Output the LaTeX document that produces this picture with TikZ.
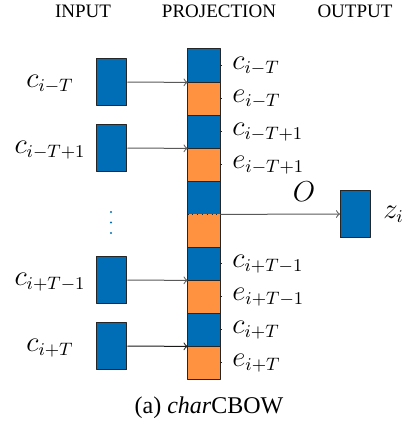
\documentclass[tikz,border=0pt]{standalone}
\usepackage[no-math]{fontspec}
\setmainfont{Liberation Serif}
\definecolor{cblue}{RGB}{0,110,183}
\definecolor{corange}{RGB}{255,146,64}
\begin{document}
\begin{tikzpicture}[x=0.5pt, y=-0.5pt, line join=round, >=to,
	cell/.style={minimum width=16pt, minimum height=16.5pt, inner sep=0pt, draw=none},
	vec/.style={draw=black!85, line width=0.5pt, fill=cblue, minimum width=15pt, minimum height=23.5pt, inner sep=0pt},
	lab/.style={font=\fontsize{13.5}{16}\selectfont, inner sep=0pt},
	head/.style={font=\fontsize{9.5}{11}\selectfont, inner sep=0pt, anchor=base},
	arr/.style={->, line width=0.5pt}]
	\useasboundingbox (0,0) rectangle (406,425);
	% column titles
	\node[head] (hin) at (83,17) {INPUT};
	\node[head] (hproj) at (219,17) {PROJECTION};
	\node[head] (hout) at (355,17) {OUTPUT};
	% projection layer
	\foreach \k/\col/\txt in {0/cblue/c_{i-T},1/corange/e_{i-T},2/cblue/c_{i-T+1},3/corange/e_{i-T+1},4/cblue/,5/corange/,6/cblue/c_{i+T-1},7/corange/e_{i+T-1},8/cblue/c_{i+T},9/corange/e_{i+T}}{
		\pgfmathsetmacro{\y}{65.5+33*\k}
		\node[cell, fill=\col] (p\k) at (204,\y) {};
		\node[lab, anchor=base west] (t\k) at (232,{\y+3.5}) {$\txt$};
	}
	\foreach \k in {0,1,2,3,6,7,8,9}{
		\draw[black!85, line width=0.4pt] (p\k.east) -- ++(2,0);
	}
	\foreach \k in {0,...,8}{
		\ifnum\k=4
			\draw[black!85, dotted] (p\k.south west) -- (p\k.south east);
		\else
			\draw[black!85, line width=0.5pt] (p\k.south west) -- (p\k.south east);
		\fi
	}
	\draw[black!85, line width=0.5pt] (p0.north west) rectangle (p9.south east);
	% inputs
	\foreach \k/\b/\txt/\c in {1/0/c_{i-T}/black!65,2/2/c_{i-T+1}/black!65,3/6/c_{i+T-1}/black!65,4/8/c_{i+T}/black!90}{
		\pgfmathsetmacro{\y}{49+33*(\b+1)}
		\node[vec] (in\k) at (112,\y) {};
		\node[lab, anchor=base] (l\k) at (50,{\y+5}) {$\txt$};
		\draw[arr, \c] (in\k.east) -- (p\b.south west);
	}
	\foreach \d in {212,222.5,233}{
		\fill[cblue] (111,\d) circle (0.6pt);
	}
	% output
	\node[vec] (out) at (355.5,214) {};
	\draw[arr, black!65] (p4.south east) -- (out.west);
	\node[lab, anchor=base] (o) at (304,201) {$O$};
	\node[lab, anchor=base west] (z) at (383,218) {$z_i$};
	% caption
	\node[font=\fontsize{12}{14}\selectfont, inner sep=0pt, anchor=base] (cap) at (209,413) {(a) \textit{char}CBOW};
\end{tikzpicture}
\end{document}
